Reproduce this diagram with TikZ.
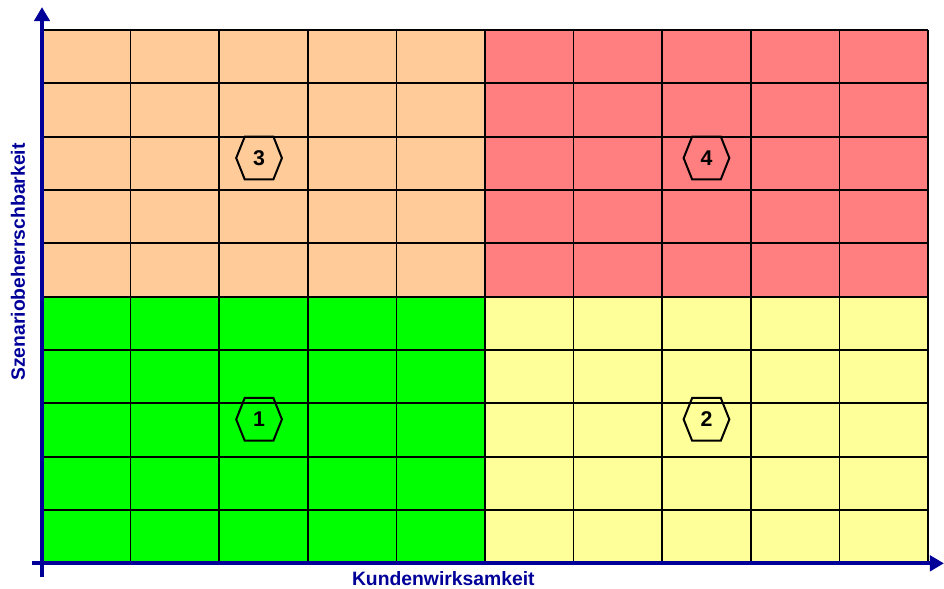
\documentclass[tikz,border=0pt]{standalone}
\usepackage{fontspec}
\setmainfont{Liberation Sans}
\usetikzlibrary{arrows.meta}

\definecolor{peach}{HTML}{FFCC99}
\definecolor{lightred}{HTML}{FF7F80}
\definecolor{brightgreen}{HTML}{00FF00}
\definecolor{paleyellow}{HTML}{FFFF99}
\definecolor{axisblue}{HTML}{000099}

\tikzset{
    axis/.style={draw=axisblue, line width=3.2pt, -{Triangle[width=11.5pt, length=10.5pt]}},
    axislabel/.style={text=axisblue, font=\bfseries\fontsize{14.5}{17}\selectfont},
    hexnum/.style={minimum width=33pt, minimum height=30.75pt, inner sep=0pt,
        font=\bfseries\fontsize{16}{16}\selectfont},
}

\begin{document}
\begin{tikzpicture}[x=66.45pt, y=40pt, line width=1.3pt]
    \useasboundingbox (-0.474, -0.469) rectangle (10.181, 10.563);

    % Quadrants
    \fill[brightgreen] (0, 0) rectangle (5, 5);
    \fill[paleyellow] (5, 0) rectangle (10, 5);
    \fill[peach] (0, 5) rectangle (5, 10);
    \fill[lightred] (5, 5) rectangle (10, 10);

    % Grid
    \foreach \i in {0, 1, ..., 10} {
        \draw (\i, 0) -- (\i, 10);
        \draw (0, \i) -- (10, \i);
    }

    % Hexagons
    \foreach \n/\x/\y in {1/2.45/2.7, 2/7.5/2.7, 3/2.45/7.6, 4/7.5/7.6} {
        \node[hexnum] (hex\n) at (\x, \y) {\n};
        \draw[line width=1.5pt] (hex\n.west) -- ([xshift=6.4pt]hex\n.north west)
            -- ([xshift=-6.4pt]hex\n.north east) -- (hex\n.east)
            -- ([xshift=-6.4pt]hex\n.south east)
            -- ([xshift=6.4pt]hex\n.south west) -- cycle;
    }

    % Axes
    \draw[axis] (0, -0.26) -- (0, 10.43);
    \draw[axis] (-0.11, 0) -- (10.18, 0);
    \node[axislabel] (xlabel) at (4.53, -0.29) {Kundenwirksamkeit};
    \node[axislabel, rotate=90] (ylabel) at (-0.27, 5.65) {Szenariobeherrschbarkeit};
\end{tikzpicture}
\end{document}
